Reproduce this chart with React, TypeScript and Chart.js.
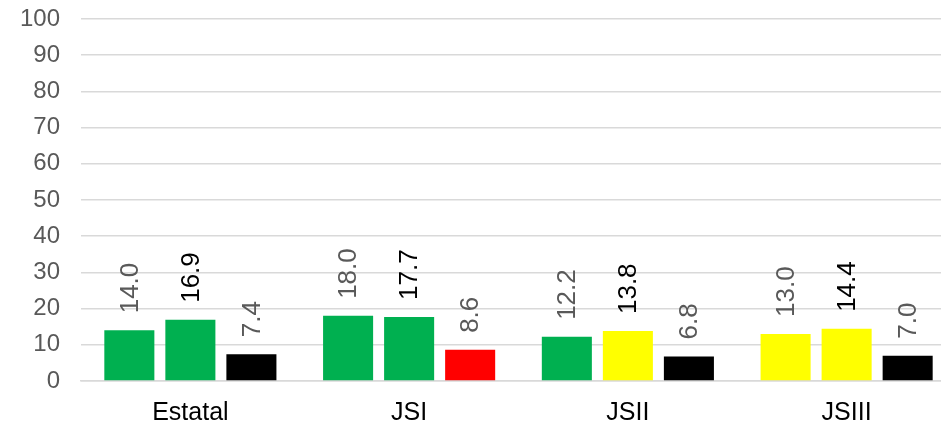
import React, { useEffect, useRef } from "react";
import { Chart, registerables } from "chart.js";

Chart.register(...registerables);

const categories = ["Estatal", "JSI", "JSII", "JSIII"];
const series1 = [14.0, 18.0, 12.2, 13.0];
const series2 = [16.9, 17.7, 13.8, 14.4];
const series3 = [7.4, 8.6, 6.8, 7.0];
const yTicks = [0, 10, 20, 30, 40, 50, 60, 70, 80, 90, 100];

const GREEN = "#00B050";
const YELLOW = "#FFFF00";
const RED = "#FF0000";
const BLACK = "#000000";
const colors1 = [GREEN, GREEN, GREEN, YELLOW];
const colors2 = [GREEN, GREEN, YELLOW, YELLOW];
const colors3 = [BLACK, RED, BLACK, BLACK];
const labelColors = ["#595959", "#000000", "#595959"];

const FONT = "'Liberation Sans', Arial, sans-serif";

const rotatedLabels = {
  id: "rotatedLabels",
  afterDatasetsDraw(chart: any) {
    const ctx = chart.ctx;
    ctx.save();
    ctx.font = `26px ${FONT}`;
    ctx.textAlign = "left";
    ctx.textBaseline = "middle";
    chart.data.datasets.forEach((ds: any, di: number) => {
      const meta = chart.getDatasetMeta(di);
      meta.data.forEach((bar: any, i: number) => {
        const v = ds.data[i];
        ctx.save();
        ctx.translate(bar.x + 1, bar.y - 17);
        ctx.rotate(-Math.PI / 2);
        ctx.fillStyle = labelColors[di];
        ctx.fillText(v.toFixed(1), 0, 0);
        ctx.restore();
      });
    });
    ctx.restore();
  },
};

export default function App() {
  const ref = useRef<HTMLCanvasElement>(null);
  useEffect(() => {
    if (!ref.current) return;
    const chart = new Chart(ref.current, {
      type: "bar",
      data: {
        labels: categories,
        datasets: [
          { data: series1, backgroundColor: colors1 },
          { data: series2, backgroundColor: colors2 },
          { data: series3, backgroundColor: colors3 },
        ],
      },
      options: {
        animation: false,
        responsive: false,
        maintainAspectRatio: false,
        datasets: {
          bar: { categoryPercentage: 0.837, barPercentage: 0.82 },
        },
        layout: { padding: { top: 19, right: 0, left: 0, bottom: 0 } },
        plugins: {
          legend: { display: false },
          tooltip: { enabled: false },
        },
        scales: {
          x: {
            grid: { display: false, drawTicks: false },
            border: { display: true, color: "#d9d9d9", width: 1.5 },
            ticks: {
              color: "#000000",
              font: { family: FONT, size: 25 },
              padding: 17,
            },
            afterFit: (scale: any) => {
              scale.height = 42;
              scale.paddingLeft = 0;
              scale.paddingRight = 0;
            },
          },
          y: {
            min: 0,
            max: 100,
            afterBuildTicks: (scale: any) => {
              scale.ticks = yTicks.map((v) => ({ value: v }));
            },
            grid: { color: "#d9d9d9", lineWidth: 1.5, drawTicks: false },
            border: { display: false },
            ticks: {
              color: "#595959",
              font: { family: FONT, size: 24 },
              padding: 21,
            },
            afterFit: (scale: any) => {
              scale.width = 81;
              scale.paddingTop = 0;
              scale.paddingBottom = 0;
            },
          },
        },
      },
      plugins: [rotatedLabels],
    });
    return () => chart.destroy();
  }, []);
  return (
    <div style={{ position: "fixed", left: 0, top: 0, width: 941, height: 423, overflow: "hidden", background: "#fff" }}>
      <canvas ref={ref} width={956} height={423} style={{ display: "block" }} />
    </div>
  );
}
